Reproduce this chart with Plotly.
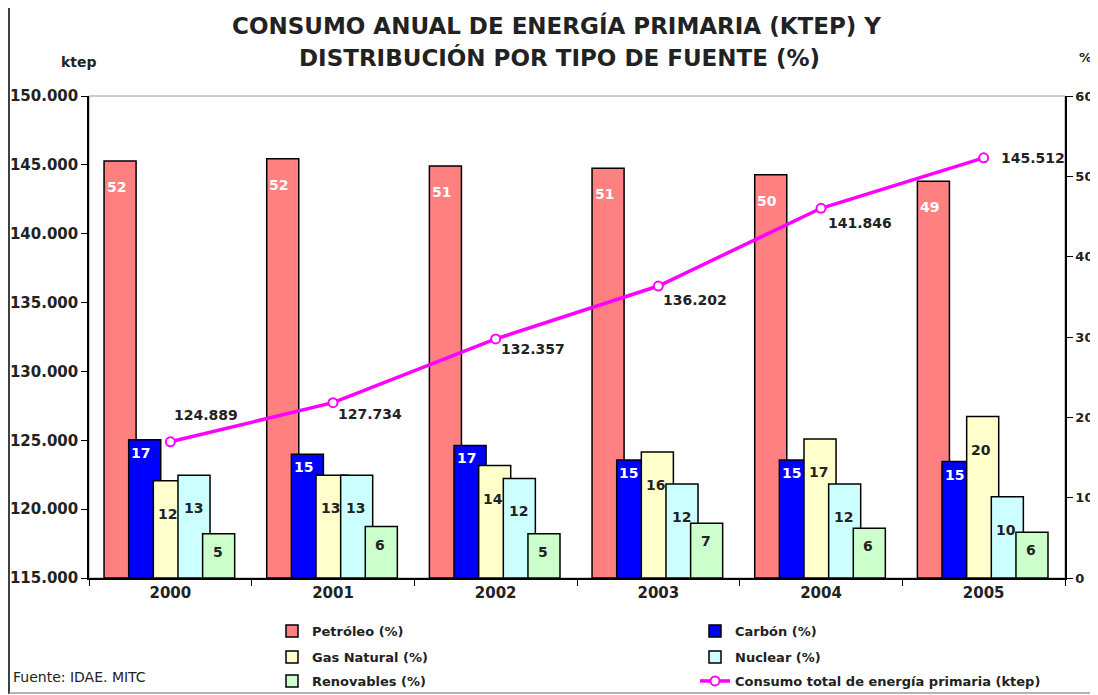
import plotly.graph_objects as go

# ---------------- data ----------------
years = ["2000", "2001", "2002", "2003", "2004", "2005"]

petroleo = [51.9, 52.2, 51.3, 51.0, 50.2, 49.4]
carbon = [17.2, 15.4, 16.5, 14.7, 14.7, 14.5]
gas_natural = [12.1, 12.8, 14.0, 15.7, 17.3, 20.1]
nuclear = [12.8, 12.8, 12.4, 11.7, 11.7, 10.1]
renovables = [5.5, 6.4, 5.5, 6.8, 6.2, 5.7]

petroleo_lbl = [52, 52, 51, 51, 50, 49]
carbon_lbl = [17, 15, 17, 15, 15, 15]
gas_lbl = [12, 13, 14, 16, 17, 20]
nuclear_lbl = [13, 13, 12, 12, 12, 10]
renov_lbl = [5, 6, 5, 7, 6, 6]

consumo = [124889, 127734, 132357, 136202, 141846, 145512]

# ---------------- style ----------------
FONT = "DejaVu Sans"
BAR_W = 0.197
STEP = 0.1515
START = -0.4075

# the page body has an 8px margin; figure is sized to fit the window
OFF = 8
FIG_W, FIG_H = 1098 - OFF, 695 - OFF
# plot area in page pixels: x 89..1065, y 96..578
L, R, T, B = 89 - OFF, FIG_W - (1065 - OFF), 96 - OFF, FIG_H - (578 - OFF)
PW, PH = FIG_W - L - R, FIG_H - T - B


def px(xp):  # page x pixel -> paper
    return (xp - 89) / PW


def py(yp):  # page y pixel -> paper
    return (578 - yp) / PH


series = [
    # name, values, labels, fill, label colour, label yshift, label xshift, legend
    ("Petróleo (%)", petroleo, petroleo_lbl, "#FF8080", "white", -26, -4, "legend"),
    ("Carbón (%)", carbon, carbon_lbl, "#0000FF", "white", -13, -4, "legend2"),
    ("Gas Natural (%)", gas_natural, gas_lbl, "#FFFFCC", "#222222", -33, -2, "legend3"),
    ("Nuclear (%)", nuclear, nuclear_lbl, "#CCFFFF", "#222222", -33, -1, "legend4"),
    ("Renovables (%)", renovables, renov_lbl, "#CCFFCC", "#222222", -18, -1, "legend5"),
]

line_lbl_pos = [  # (xshift, yshift)
    (2, 27),
    (3, -11),
    (3, -10),
    (3, -14),
    (5, -15),
    (15, 0),
]

fig = go.Figure()
annotations = []

for k, (name, vals, lbls, col, lcol, dy, dx, leg) in enumerate(series):
    off = START + k * STEP
    fig.add_trace(go.Bar(
        x=years, y=vals, name=name,
        width=BAR_W, offset=off,
        marker=dict(color=col, line=dict(color="black", width=1.5)),
        yaxis="y", legend=leg, hoverinfo="skip",
    ))
    for i, (v, t) in enumerate(zip(vals, lbls)):
        annotations.append(dict(
            x=i + off + BAR_W / 2, y=v, xref="x", yref="y",
            text=f"<b>{t}</b>", showarrow=False,
            xshift=dx, yshift=dy, yanchor="middle",
            font=dict(family=FONT, size=14, color=lcol),
        ))

fig.add_trace(go.Scatter(
    x=years, y=consumo, name="Consumo total de energía primaria (ktep)",
    mode="lines+markers", yaxis="y2", legend="legend6",
    line=dict(color="#FF00FF", width=3.5),
    marker=dict(symbol="circle", size=9, color="white",
                line=dict(color="#FF00FF", width=2)),
    hoverinfo="skip",
))
for i, v in enumerate(consumo):
    dx, dy = line_lbl_pos[i]
    annotations.append(dict(
        x=i, y=v, xref="x", yref="y2",
        text="<b>" + f"{v:,}".replace(",", ".") + "</b>",
        showarrow=False, xanchor="left", yanchor="middle",
        xshift=dx, yshift=dy,
        font=dict(family=FONT, size=14, color="#222222"),
    ))

# title and other texts
annotations += [
    dict(text="<b>CONSUMO ANUAL DE ENERGÍA PRIMARIA (KTEP) Y</b>",
         xref="paper", yref="paper", x=px(556), y=py(25),
         showarrow=False, xanchor="center", yanchor="middle",
         font=dict(family=FONT, size=23, color="#222222")),
    dict(text="<b>DISTRIBUCIÓN POR TIPO DE FUENTE (%)</b>",
         xref="paper", yref="paper", x=px(559), y=py(57),
         showarrow=False, xanchor="center", yanchor="middle",
         font=dict(family=FONT, size=23, color="#222222")),
    dict(text="<b>ktep</b>", xref="paper", yref="paper",
         x=px(79), y=py(62), showarrow=False,
         xanchor="center", yanchor="middle",
         font=dict(family=FONT, size=14, color="#222222")),
    dict(text="<b>%</b>", xref="paper", yref="paper",
         x=px(1085), y=py(57), showarrow=False,
         xanchor="center", yanchor="middle",
         font=dict(family=FONT, size=13, color="#222222")),
    dict(text="Fuente: IDAE. MITC", xref="paper", yref="paper",
         x=px(11), y=py(677), showarrow=False,
         xanchor="left", yanchor="middle",
         font=dict(family=FONT, size=14, color="#222222")),
]

shapes = [
    dict(type="rect", xref="paper", yref="paper", x0=0, x1=1, y0=0, y1=1,
         line=dict(color="#9a9a9a", width=1), layer="below"),
    dict(type="line", xref="paper", yref="paper",
         x0=px(9), x1=px(9), y0=py(694), y1=py(-5),
         line=dict(color="black", width=1.5)),
    dict(type="line", xref="paper", yref="paper",
         x0=px(1096), x1=px(1096), y0=py(694), y1=py(-5),
         line=dict(color="black", width=1.5)),
    dict(type="line", xref="paper", yref="paper",
         x0=px(9), x1=px(1096), y0=py(693), y1=py(693),
         line=dict(color="#9a9a9a", width=1.5)),
]

tickfont = dict(family=FONT, size=15, color="#222222", weight="bold")
legfont = dict(family=FONT, size=13, color="#222222", weight="bold")
leg_common = dict(orientation="v", xanchor="left", yanchor="middle",
                  bgcolor="rgba(0,0,0,0)", font=legfont)

legend_pos = {  # legend name: (legend x px, row centre y px) in page pixels
    "legend": (272, 631), "legend2": (695, 631),
    "legend3": (272, 657), "legend4": (695, 657),
    "legend5": (272, 681), "legend6": (695, 681),
}
legend_layout = {k: dict(**leg_common, x=px(xx), y=py(yy))
                 for k, (xx, yy) in legend_pos.items()}

fig.update_layout(
    width=FIG_W, height=FIG_H,
    margin=dict(l=L, r=R, t=T, b=B, autoexpand=False),
    paper_bgcolor="white", plot_bgcolor="white",
    separators=",.",
    barmode="overlay",
    showlegend=True,
    font=dict(family=FONT, color="#222222"),
    xaxis=dict(type="category", tickson="boundaries", ticks="outside",
               ticklen=6, tickcolor="black", showline=True, linecolor="black",
               linewidth=1.5, showgrid=False, tickfont=tickfont,
               range=[-0.5, 5.5], fixedrange=True, automargin=False),
    yaxis=dict(side="right", range=[0, 60], dtick=10, ticks="outside",
               ticklen=6, tickcolor="black", showline=True, linecolor="black",
               linewidth=1.5, showgrid=False, zeroline=False, automargin=False,
               tickfont=dict(family=FONT, size=13, color="#222222", weight="bold")),
    yaxis2=dict(side="left", overlaying="y", range=[115000, 150000],
                dtick=5000, tickformat=",d", ticks="outside", ticklen=6,
                tickcolor="black", showline=True, linecolor="black",
                linewidth=1.5, showgrid=False, zeroline=False,
                automargin=False, tickfont=tickfont),
    annotations=annotations,
    shapes=shapes,
    **legend_layout,
)

fig.write_html("out.html")
